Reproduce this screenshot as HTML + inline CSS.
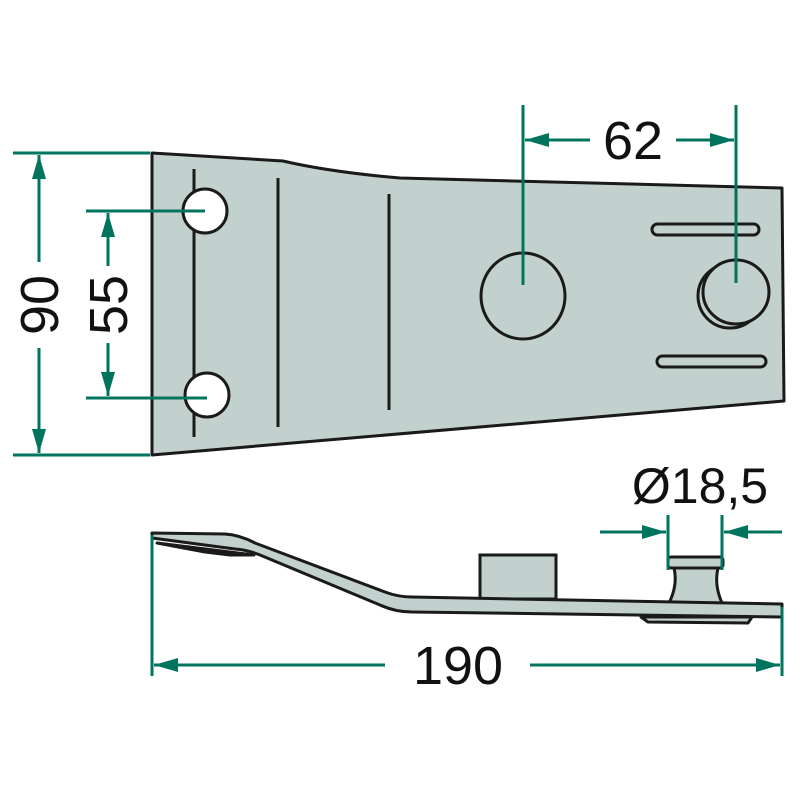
<!DOCTYPE html>
<html><head><meta charset="utf-8"><style>html,body{margin:0;padding:0;background:#fff}svg{display:block}</style></head>
<body>
<svg width="800" height="800" viewBox="0 0 800 800" xmlns="http://www.w3.org/2000/svg">
<defs>
<marker id="a" viewBox="0 0 24 14" refX="24" refY="7" markerWidth="24" markerHeight="14" markerUnits="userSpaceOnUse" orient="auto"><path d="M0,0 L24,7 L0,14 Z" fill="#00745c"/></marker>
</defs>
<g font-family="Liberation Sans, sans-serif" font-size="54" fill="#111">
<!-- top plate -->
<path d="M152,153 L283,161 Q330,172 400,178 L782,188 L784,401 L152,455 Z" fill="#c3d1ce" stroke="#1a1a1a" stroke-width="3" stroke-linejoin="round"/>
<line x1="194" y1="169" x2="194" y2="437" stroke="#1a1a1a" stroke-width="3"/>
<line x1="278" y1="178" x2="278" y2="427" stroke="#1a1a1a" stroke-width="3"/>
<line x1="389" y1="194" x2="389" y2="410" stroke="#1a1a1a" stroke-width="3"/>
<ellipse cx="205" cy="211" rx="22" ry="22" fill="#fff" stroke="#1a1a1a" stroke-width="3"/>
<ellipse cx="207" cy="395" rx="22" ry="22" fill="#fff" stroke="#1a1a1a" stroke-width="3"/>
<ellipse cx="523" cy="296" rx="42" ry="43" fill="none" stroke="#1a1a1a" stroke-width="3"/>
<ellipse cx="730" cy="296" rx="32" ry="32" fill="none" stroke="#1a1a1a" stroke-width="3"/>
<ellipse cx="736" cy="292" rx="33" ry="32" fill="#c3d1ce" stroke="#1a1a1a" stroke-width="3"/>
<rect x="652" y="224" width="107" height="11" rx="5.5" fill="none" stroke="#1a1a1a" stroke-width="3"/>
<rect x="657" y="356" width="109" height="11" rx="5.5" fill="none" stroke="#1a1a1a" stroke-width="3"/>
<!-- side view -->
<path d="M157,543 L205,552 L230,555 L254,555 Z" fill="#c3d1ce" stroke="#1a1a1a" stroke-width="3" stroke-linejoin="round"/>
<path d="M641,617 L648,622 L748,623 L752,617 Z" fill="#c3d1ce" stroke="#1a1a1a" stroke-width="3" stroke-linejoin="round"/>
<rect x="480" y="555" width="76" height="44" fill="#c3d1ce" stroke="#1a1a1a" stroke-width="3"/>
<path d="M674,568 Q678,585 669,603 L722,603 Q714,585 718,568 Z" fill="#c3d1ce" stroke="#1a1a1a" stroke-width="3"/>
<rect x="668" y="557" width="55" height="11" rx="3" fill="#c3d1ce" stroke="#1a1a1a" stroke-width="3"/>
<path d="M152,533 L225,534 Q240,535 255,543 L385,592 Q398,597 412,597 L782,604 L782,617 L412,612 Q395,612 380,605 L260,555 Q248,550 235,549 L152,538 Z" fill="#c3d1ce" stroke="#1a1a1a" stroke-width="3" stroke-linejoin="round"/>
</g>
<g stroke="#00745c" stroke-width="3" fill="none">
<!-- 90 -->
<line x1="13" y1="153" x2="150" y2="153"/>
<line x1="13" y1="455" x2="150" y2="455"/>
<line x1="39" y1="262" x2="39" y2="155" marker-end="url(#a)"/>
<line x1="39" y1="348" x2="39" y2="453" marker-end="url(#a)"/>
<!-- 55 -->
<line x1="86" y1="211" x2="205" y2="211"/>
<line x1="86" y1="398" x2="207" y2="398"/>
<line x1="108" y1="266" x2="108" y2="213" marker-end="url(#a)"/>
<line x1="108" y1="343" x2="108" y2="396" marker-end="url(#a)"/>
<!-- 62 -->
<line x1="523" y1="105" x2="523" y2="285"/>
<line x1="736" y1="105" x2="736" y2="283"/>
<line x1="590" y1="140" x2="525" y2="140" marker-end="url(#a)"/>
<line x1="676" y1="140" x2="734" y2="140" marker-end="url(#a)"/>
<!-- diameter -->
<line x1="668" y1="515" x2="668" y2="570"/>
<line x1="722" y1="515" x2="722" y2="570"/>
<line x1="600" y1="532" x2="666" y2="532" marker-end="url(#a)"/>
<line x1="782" y1="532" x2="724" y2="532" marker-end="url(#a)"/>
<!-- 190 -->
<line x1="152" y1="535" x2="152" y2="676"/>
<line x1="782" y1="607" x2="782" y2="676"/>
<line x1="385" y1="665" x2="154" y2="665" marker-end="url(#a)"/>
<line x1="530" y1="665" x2="780" y2="665" marker-end="url(#a)"/>
</g>
<g font-family="Liberation Sans, DejaVu Sans, sans-serif" font-size="54" fill="#111" text-anchor="middle">
<text x="633" y="159">62</text>
<text x="700" y="503" font-size="50">Ø18,5</text>
<text x="458" y="684">190</text>
<text transform="translate(58,305) rotate(-90)">90</text>
<text transform="translate(127,305) rotate(-90)">55</text>
</g>
</svg>
</body></html>
